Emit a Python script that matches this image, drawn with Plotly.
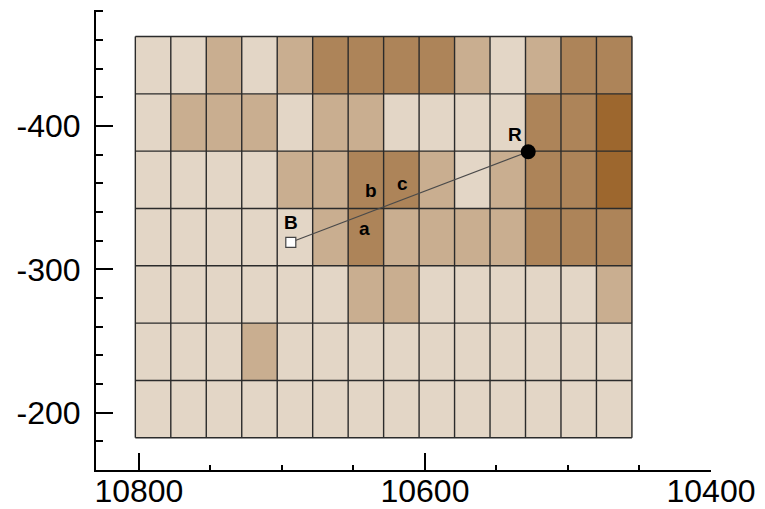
import plotly.graph_objects as go

# ---- data ----
x_edges = [10802.5, 10777.7, 10752.9, 10728.1, 10703.3, 10678.5, 10653.7, 10628.9,
           10604.1, 10579.3, 10554.5, 10529.7, 10504.9, 10480.1, 10455.3]
y_edges = [-462.5, -422.5, -382.5, -342.5, -302.5, -262.5, -222.5, -182.5]

# class per cell (rows top -> bottom, columns left -> right)
cells = [
    [0, 0, 1, 0, 1, 2, 2, 2, 2, 1, 0, 1, 2, 2],
    [0, 1, 1, 1, 0, 1, 1, 0, 0, 0, 0, 2, 2, 3],
    [0, 0, 0, 0, 1, 1, 2, 2, 1, 0, 1, 2, 2, 3],
    [0, 0, 0, 0, 0, 1, 2, 1, 1, 1, 1, 2, 2, 2],
    [0, 0, 0, 0, 0, 0, 1, 1, 0, 0, 0, 0, 0, 1],
    [0, 0, 0, 1, 0, 0, 0, 0, 0, 0, 0, 0, 0, 0],
    [0, 0, 0, 0, 0, 0, 0, 0, 0, 0, 0, 0, 0, 0],
]
class_colors = ["#E3D6C6", "#C9AE90", "#AD8459", "#9D672E"]

point_B = (10693.8, -318.9)
point_R = (10527.8, -382.1)

labels_text = ["B", "R", "a", "b", "c"]
labels_x = [10693.4, 10537.1, 10642.1, 10637.4, 10615.9]
labels_y = [-332.4, -393.8, -328.7, -355.3, -360.0]

x_tickvals = [10800, 10600, 10400]
x_ticktext = ["10800", "10600", "10400"]
y_tickvals = [-400, -300, -200]
y_ticktext = ["-400", "-300", "-200"]

# ---- figure ----
n = len(class_colors) - 1
colorscale = [[i / n, c] for i, c in enumerate(class_colors)]

fig = go.Figure()
fig.add_trace(go.Heatmap(
    x=x_edges, y=y_edges, z=cells, zmin=0, zmax=n,
    colorscale=colorscale, showscale=False, hoverinfo="skip",
))

# grid lines from the edges
gx, gy = [], []
for xe in x_edges:
    gx += [xe, xe, None]
    gy += [y_edges[0], y_edges[-1], None]
for ye in y_edges:
    gx += [x_edges[0], x_edges[-1], None]
    gy += [ye, ye, None]
fig.add_trace(go.Scatter(x=gx, y=gy, mode="lines",
                         line=dict(color="#2b2b2b", width=1.4),
                         hoverinfo="skip", showlegend=False))

# B - R line
fig.add_trace(go.Scatter(x=[point_B[0], point_R[0]], y=[point_B[1], point_R[1]],
                         mode="lines", line=dict(color="#4a4a4a", width=1.2),
                         showlegend=False, hoverinfo="skip"))
fig.add_trace(go.Scatter(x=[point_B[0]], y=[point_B[1]], mode="markers",
                         marker=dict(symbol="square", size=10, color="white",
                                     line=dict(color="#444444", width=1.2)),
                         showlegend=False))
fig.add_trace(go.Scatter(x=[point_R[0]], y=[point_R[1]], mode="markers",
                         marker=dict(symbol="circle", size=15, color="black"),
                         showlegend=False))

for t, lx, ly in zip(labels_text, labels_x, labels_y):
    fig.add_annotation(x=lx, y=ly, text=f"<b>{t}</b>", showarrow=False,
                       font=dict(family="Arial, Liberation Sans", size=19, color="black"),
                       xanchor="center", yanchor="middle")

axis_common = dict(
    showgrid=False, zeroline=False, showline=True, linecolor="black", linewidth=2,
    ticks="inside", tickcolor="black", tickwidth=2, ticklen=17, automargin=False,
    tickfont=dict(family="Arial, Liberation Sans", size=32, color="black"),
)
fig.update_xaxes(range=[10830, 10400], tickvals=x_tickvals, ticktext=x_ticktext,
                 ticklabelstandoff=-8,
                 minor=dict(dtick=50, tick0=10400, ticks="inside", ticklen=5,
                            tickwidth=1.5, tickcolor="black"),
                 **axis_common)
fig.update_yaxes(range=[-160, -481], tickvals=y_tickvals, ticktext=y_ticktext,
                 ticklabelstandoff=7,
                 minor=dict(dtick=20, tick0=-400, ticks="inside", ticklen=7,
                            tickwidth=1.5, tickcolor="black"),
                 **axis_common)

# page body has an 8px margin: shrink figure so plot area lands where the reference has it
fig.update_layout(
    width=757, height=501,
    margin=dict(l=88, r=54, t=2, b=39, pad=0),
    plot_bgcolor="white", paper_bgcolor="white",
    showlegend=False,
)

fig.write_html("out.html")
